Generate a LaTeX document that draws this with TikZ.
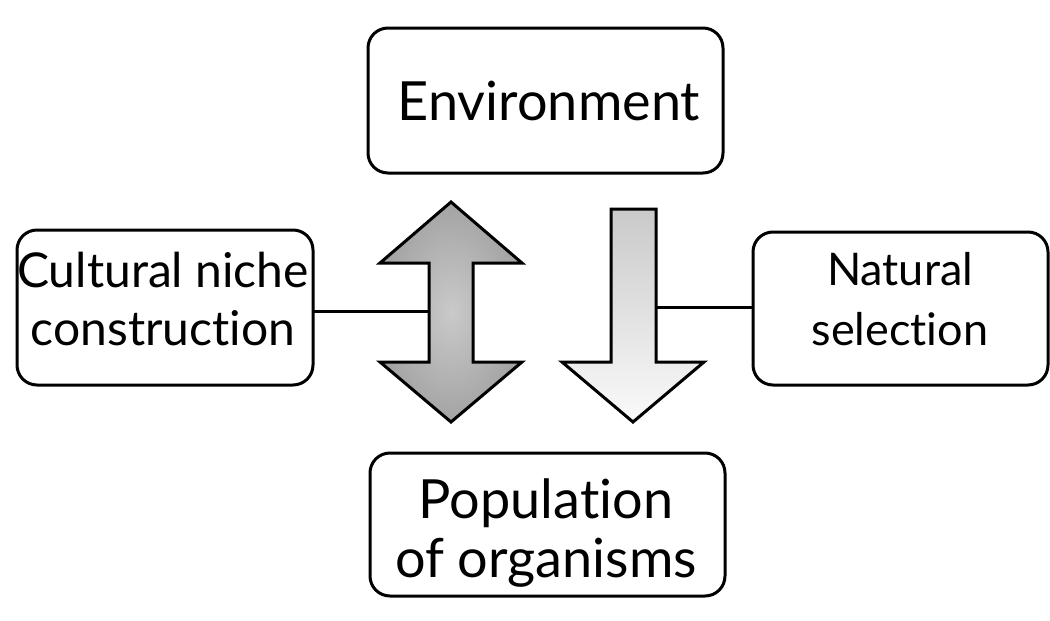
\documentclass[tikz,border=0pt]{standalone}
\usepackage{fontspec}
\setmainfont[Ligatures=NoCommon]{Lato}
\usetikzlibrary{shapes.geometric}
\begin{document}
\begin{tikzpicture}[x=1pt,y=-1pt,
  box/.style={draw=black,line width=3pt,rounded corners=20pt,fill=white},
  lbl/.style={align=center,inner sep=0pt,anchor=base},
  conn/.style={draw=black,line width=3pt},
  arrowshape/.style={draw=black,line width=3pt,line join=miter}]
\useasboundingbox (0,0) rectangle (1050,621);
% boxes
\draw[box] (368,28) rectangle (723,173);
\node[lbl,font=\fontsize{54}{60}\selectfont] (env) at (549,120) {Environment};
\draw[box] (17,230) rectangle (313,385);
\node[lbl,font=\fontsize{48}{58}\selectfont] (cult) at (163,345) {Cultural niche\\construction};
\coordinate (cultR) at (313,311);
\draw[box] (753,232) rectangle (1048,385);
\node[lbl,font=\fontsize{45}{60}\selectfont] (nat) at (900,345) {Natural\\selection};
\coordinate (natL) at (753,307);
\draw[box] (370,453) rectangle (725,596);
\node[lbl,font=\fontsize{54}{59}\selectfont] (pop) at (546,577) {Population\\of organisms};
% double arrow
\path[arrowshape,inner color=gray!42,outer color=gray!72]
  (451,202) -- (522,263) -- (473,263) -- (473,362) -- (522,362) -- (451,422)
  -- (380,362) -- (429,362) -- (429,263) -- (380,263) -- cycle;
\coordinate (dblL) at (429,311);
% down arrow
\path[arrowshape,top color=gray!42,bottom color=gray!4]
  (611,209) -- (656,209) -- (656,362) -- (704,362) -- (633,422) -- (562,362)
  -- (611,362) -- cycle;
\coordinate (downR) at (656,307);
% connectors
\draw[conn] (cultR) -- (dblL);
\draw[conn] (downR) -- (natL);
\end{tikzpicture}
\end{document}
